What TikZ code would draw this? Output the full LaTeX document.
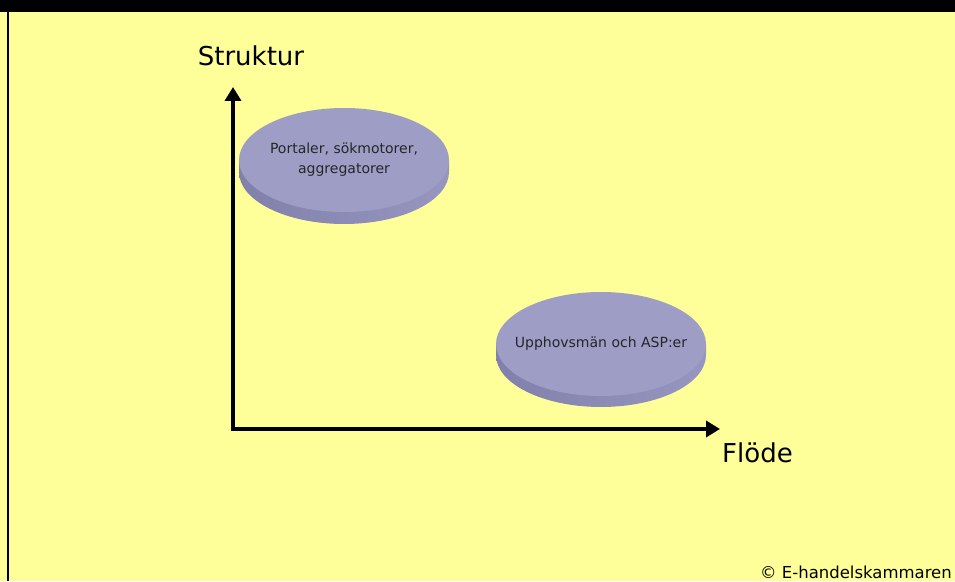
\documentclass[tikz,border=0pt]{standalone}
\usepackage{fontspec}
\setmainfont{DejaVu Sans}
\usepackage{tikz}
\usetikzlibrary{arrows.meta}
\definecolor{bakgrund}{RGB}{255,255,153}
\definecolor{yta}{RGB}{157,157,198}
\definecolor{kantmork}{RGB}{128,128,170}
\definecolor{kantljus}{RGB}{150,150,192}
% disc: name, centre x, centre y, thickness, text
\newcommand{\skiva}[5]{
  \shade[left color=kantmork, right color=kantljus] (#2-105,#3) -- (#2-105,#3-#4)
    arc[start angle=180, end angle=360, x radius=105, y radius=52] -- (#2+105,#3) -- cycle;
  \fill[yta] (#2,#3) ellipse [x radius=105, y radius=52];
  \node[disctext] (#1) at (#2,#3) {#5};}
\tikzset{
  axis/.style={line width=3.5pt, {Triangle[length=14pt,width=16pt]}-{Triangle[length=14pt,width=16pt]}},
  axislabel/.style={font=\fontsize{26}{30}\selectfont, inner sep=0pt},
  disctext/.style={font=\fontsize{14}{20}\selectfont, align=center, inner sep=0pt, text=black!85}
}
\begin{document}
\begin{tikzpicture}[x=1pt,y=1pt]
        \useasboundingbox (0,0) rectangle (955,581);
        \clip (0,0) rectangle (955,581);
        % background and frame
        \fill[bakgrund] (0,0) rectangle (955,581);
        \fill[black] (0,569) rectangle (955,581);
        \fill[black] (7,0) rectangle (9,581);
        % axes
        \coordinate (origo) at (233,152);
        \coordinate (ytop) at (233,494);
        \coordinate (xend) at (720,152);
        \draw[axis] (ytop) -- (origo) -- (xend);
        \node[axislabel, anchor=base] (struktur) at (251,515) {Struktur};
        \node[axislabel, anchor=base west] (flode) at (722,118) {Flöde};
        % discs
        \skiva{portaler}{344}{421}{12}{Portaler, sökmotorer,\\aggregatorer}
        \skiva{upphov}{601}{237}{11}{Upphovsmän och ASP:er}
        % footer
        \node[font=\fontsize{16.5}{20}\selectfont, anchor=base east, inner sep=0pt] (copyright) at (952,3) {© E-handelskammaren};
    \end{tikzpicture}
\end{document}
